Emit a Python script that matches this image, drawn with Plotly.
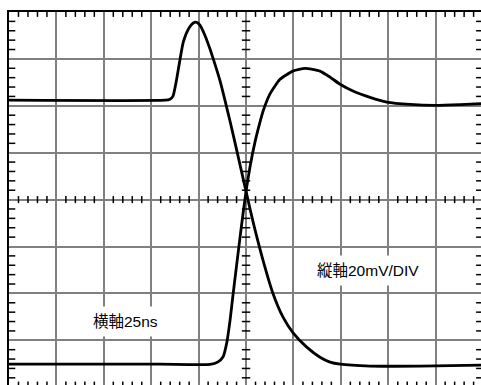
import plotly.graph_objects as go

# Horizontal scale: 25 ns per division, 10 divisions
# Vertical scale: 20 mV per division, 8 divisions (centred on 0)
NS_PER_DIV = 25
MV_PER_DIV = 20

# Trace A: positive overshoot pulse, then falling edge
pulse_t = [0, 82.3, 84.9, 86.5, 88.4, 90.2, 91.9, 94.6, 97.2, 99.0, 100.7, 103.4,
           106.0, 108.6, 111.3, 113.9, 116.6, 120.1, 125.0, 128.7, 134.0, 139.2,
           144.5, 149.8, 157.0, 164.0, 169.3, 174.6, 190.4, 216.8, 248.9]
pulse_mv = [42.4, 42.4, 42.8, 44.1, 51.3, 59.9, 67.2, 72.7, 75.3, 75.6, 74.4, 69.9,
            64.2, 57.8, 50.6, 42.3, 33.3, 21.0, 3.5, -9.5, -26.0, -40.0,
            -50.1, -56.8, -62.9, -67.2, -69.3, -70.2, -71.0, -71.0, -70.6]

# Trace B: rising edge with overshoot and slow settle
step_t = [0, 79.6, 106.0, 110.2, 112.9, 114.8, 116.6, 118.0, 119.2, 120.4, 122.7,
          125.0, 127.1, 129.7, 132.0, 134.1, 137.7, 142.9, 149.9, 156.1, 164.0,
          169.3, 174.6, 181.4, 190.4, 199.2, 211.5, 224.7, 237.9, 248.9]
step_mv = [-70.2, -70.2, -70.3, -69.2, -67.0, -61.2, -51.3, -41.5, -33.5, -25.5, -10.5,
           3.5, 14.0, 24.5, 32.0, 38.0, 45.2, 51.3, 54.9, 56.0, 54.8,
           52.2, 49.2, 46.3, 43.6, 41.6, 40.6, 40.2, 40.5, 40.9]

# Graticule: major divisions and minor (1/5 division) marks
major_t = [i * NS_PER_DIV for i in range(11)]
major_mv = [j * MV_PER_DIV for j in range(-4, 5)]
minor_t = [k * 5 for k in range(1, 50) if k % 5]
minor_mv = [k * 4 for k in range(-19, 20) if k % 5]

X_RANGE = [0, 248.9]
Y_RANGE = [-79.06, 80]
GRID = "#808080"

fig = go.Figure()


def tick_marks(xs, ys, symbol, size):
    fig.add_trace(go.Scatter(
        x=xs, y=ys, mode="markers", hoverinfo="skip", showlegend=False,
        marker=dict(symbol=symbol, size=size, color="black",
                    line=dict(color="black", width=1.5)),
    ))


# minor marks on the top/bottom edges and the horizontal centre line
tick_marks(minor_t, [80] * len(minor_t), "line-ns", 7)
tick_marks(minor_t, [-80] * len(minor_t), "line-ns", 8)
tick_marks(minor_t, [0] * len(minor_t), "line-ns", 5)
# minor marks on the left/right edges and the vertical centre line
tick_marks([0] * len(minor_mv), minor_mv, "line-ew", 9)
tick_marks([250] * len(minor_mv), minor_mv, "line-ew", 10)
tick_marks([125] * len(minor_mv), minor_mv, "line-ew", 6)

for t, v in ((pulse_t, pulse_mv), (step_t, step_mv)):
    fig.add_trace(go.Scatter(
        x=t, y=v, mode="lines", showlegend=False, hoverinfo="skip",
        line=dict(color="black", width=2.8, shape="spline", smoothing=0.5),
    ))

label_font = dict(family="Liberation Sans, Arial, Noto Sans CJK JP", size=15.5, color="black")
fig.add_annotation(x=61.6, y=-52.0, xref="x", yref="y", text="横軸25ns",
                   showarrow=False, font=label_font, bgcolor="white", borderpad=6,
                   xanchor="center", yanchor="middle")
fig.add_annotation(x=189.3, y=-30.4, xref="x", yref="y", text="縦軸20mV/DIV",
                   showarrow=False, font=label_font, bgcolor="white", borderpad=6,
                   xanchor="center", yanchor="middle")

fig.update_xaxes(
    range=X_RANGE, tickvals=major_t, showticklabels=False, ticks="",
    showgrid=True, gridcolor=GRID, gridwidth=1.5, zeroline=False,
    showline=True, linecolor="black", linewidth=2, side="top", fixedrange=True,
)
fig.update_yaxes(
    range=Y_RANGE, tickvals=major_mv, showticklabels=False, ticks="",
    showgrid=True, gridcolor=GRID, gridwidth=1.5, zeroline=False,
    showline=True, linecolor="black", linewidth=2, side="left", fixedrange=True,
)

fig.update_layout(
    width=481, height=385,
    margin=dict(l=9, r=0, t=12, b=0, pad=0),
    paper_bgcolor="white", plot_bgcolor="white",
    showlegend=False,
)

fig.write_html("out.html", config={"displayModeBar": False})
